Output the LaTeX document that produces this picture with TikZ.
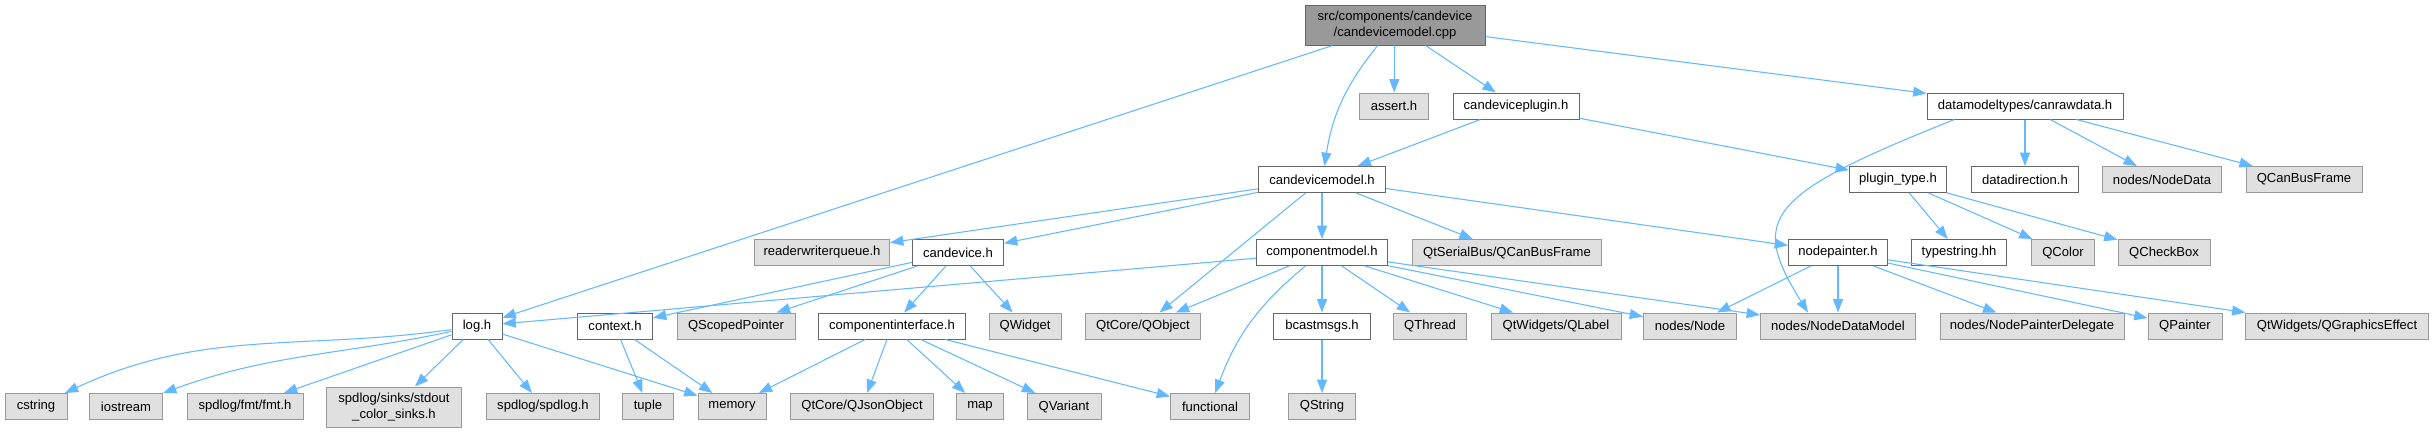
\documentclass[tikz,border=0pt]{standalone}
\usepackage{fontspec}
\setmainfont{Liberation Sans}
\usetikzlibrary{arrows.meta}
\definecolor{edgeblue}{HTML}{63B8FF}
\definecolor{docline}{HTML}{666666}
\definecolor{sysline}{HTML}{999999}
\definecolor{sysfill}{HTML}{E0E0E0}
\definecolor{srcfill}{HTML}{999999}
\tikzset{
  >={Triangle[length=10pt,width=7.5pt]},
  % filer
  filebox/.style={rectangle,line width=0.75pt,inner sep=0pt,minimum height=19.5pt,
                  font=\fontsize{9.8}{11.5}\selectfont,align=center},
  docfile/.style={filebox,draw=docline,fill=white,minimum width={0.75pt*#1}},
  sysfile/.style={filebox,draw=sysline,fill=sysfill,minimum width={0.75pt*#1}},
  srcfile/.style={filebox,draw=docline,fill=srcfill,minimum height=30pt,
                  minimum width={0.75pt*#1}},
  % beroenden
  dep/.style={->,draw=edgeblue,line width=0.8pt},
}
\begin{document}
\begin{tikzpicture}[x=0.75pt,y=0.75pt]
\useasboundingbox (0,0) rectangle (2434,-432);
  \node[srcfile=180] (src) at (1395,-25) {src/components/candevice\\/candevicemodel.cpp};
  \node[sysfile=69] (assert) at (1394,-106) {assert.h};
  \node[docfile=126] (plugin) at (1516,-106) {candeviceplugin.h};
  \node[docfile=196] (canraw) at (2025,-106) {datamodeltypes/canrawdata.h};
  \node[docfile=127] (cdmodel) at (1322,-179.5) {candevicemodel.h};
  \node[docfile=97] (ptype) at (1898,-179.5) {plugin\_type.h};
  \node[docfile=107] (ddir) at (2025,-179.5) {datadirection.h};
  \node[sysfile=119] (ndata) at (2162,-179.5) {nodes/NodeData};
  \node[sysfile=116] (qcbf) at (2304,-179.5) {QCanBusFrame};
  \node[sysfile=135] (rwq) at (822,-252.5) {readerwriterqueue.h};
  \node[docfile=91] (candev) at (958,-252.5) {candevice.h};
  \node[docfile=131] (cmodel) at (1322,-252.5) {componentmodel.h};
  \node[sysfile=189] (qsbf) at (1507,-252.5) {QtSerialBus/QCanBusFrame};
  \node[docfile=99] (npaint) at (1838,-252.5) {nodepainter.h};
  \node[docfile=95] (tstr) at (1959,-252.5) {typestring.hh};
  \node[sysfile=63] (qcolor) at (2063,-252.5) {QColor};
  \node[sysfile=92] (qcheck) at (2164,-252.5) {QCheckBox};
  \node[docfile=50] (log) at (477,-326) {log.h};
  \node[docfile=75] (ctx) at (615,-326) {context.h};
  \node[sysfile=118] (qsptr) at (736,-326) {QScopedPointer};
  \node[docfile=147] (cif) at (892,-326) {componentinterface.h};
  \node[sysfile=72] (qwidget) at (1025,-326) {QWidget};
  \node[sysfile=115] (qobj) at (1143,-326) {QtCore/QObject};
  \node[docfile=97] (bcast) at (1322,-326) {bcastmsgs.h};
  \node[sysfile=73] (qthread) at (1430,-326) {QThread};
  \node[sysfile=130] (qlabel) at (1556,-326) {QtWidgets/QLabel};
  \node[sysfile=93] (nnode) at (1690,-326) {nodes/Node};
  \node[sysfile=155] (ndmodel) at (1838,-326) {nodes/NodeDataModel};
  \node[sysfile=184] (npdel) at (2032,-326) {nodes/NodePainterDelegate};
  \node[sysfile=74] (qpainter) at (2185,-326) {QPainter};
  \node[sysfile=183] (qgfx) at (2337,-326) {QtWidgets/QGraphicsEffect};
  \node[sysfile=62] (cstring) at (36,-406.5) {cstring};
  \node[sysfile=73] (iostream) at (126,-406.5) {iostream};
  \node[sysfile=116] (fmt) at (245,-406.5) {spdlog/fmt/fmt.h};
  \node[sysfile=135,minimum height=30pt] (sinks) at (394,-407) {spdlog/sinks/stdout\\\_color\_sinks.h};
  \node[sysfile=113] (spdlog) at (543,-406.5) {spdlog/spdlog.h};
  \node[sysfile=51] (tuple) at (648,-406.5) {tuple};
  \node[sysfile=68] (memory) at (732,-406.5) {memory};
  \node[sysfile=143] (qjson) at (862,-406.5) {QtCore/QJsonObject};
  \node[sysfile=47] (map) at (980,-406.5) {map};
  \node[sysfile=74] (qvariant) at (1064,-406.5) {QVariant};
  \node[sysfile=79] (functional) at (1210,-406.5) {functional};
  \node[sysfile=67] (qstring) at (1322,-406.5) {QString};
  \draw[dep] (src) -- (log);
  \draw[dep] (src) to[bend right=15] (cdmodel);
  \draw[dep] (src) -- (assert);
  \draw[dep] (src) -- (plugin);
  \draw[dep] (src) -- (canraw);
  \draw[dep] (plugin) -- (cdmodel);
  \draw[dep] (plugin) -- (ptype);
  \draw[dep] ([xshift=21pt]canraw.south west) .. controls (1765,-195) and (1749,-218) .. ([xshift=36pt]ndmodel.north west);
  \draw[dep] (canraw) -- (ddir);
  \draw[dep] (canraw) -- (ndata);
  \draw[dep] (canraw) -- (qcbf);
  \draw[dep] (ptype) -- (tstr);
  \draw[dep] (ptype) -- (qcolor);
  \draw[dep] (ptype) -- (qcheck);
  \draw[dep] (cdmodel) -- (rwq);
  \draw[dep] (cdmodel) -- (candev);
  \draw[dep] (cdmodel) -- (qobj);
  \draw[dep] (cdmodel) -- (cmodel);
  \draw[dep] (cdmodel) -- (qsbf);
  \draw[dep] (cdmodel) -- (npaint);
  \draw[dep] (candev) -- (ctx);
  \draw[dep] (candev) -- (qsptr);
  \draw[dep] (candev) -- (cif);
  \draw[dep] (candev) -- (qwidget);
  \draw[dep] (cmodel) -- (log);
  \draw[dep] (cmodel) -- (qobj);
  \draw[dep] (cmodel) to[bend right=15] (functional);
  \draw[dep] (cmodel) -- (bcast);
  \draw[dep] (cmodel) -- (qthread);
  \draw[dep] (cmodel) -- (qlabel);
  \draw[dep] (cmodel) -- (nnode);
  \draw[dep] (cmodel) -- (ndmodel);
  \draw[dep] (npaint) -- (nnode);
  \draw[dep] (npaint) -- (ndmodel);
  \draw[dep] (npaint) -- (npdel);
  \draw[dep] (npaint) -- (qpainter);
  \draw[dep] (npaint) -- (qgfx);
  \draw[dep] (log) to[out=188,in=25] (cstring);
  \draw[dep] (log) to[out=192,in=20] (iostream);
  \draw[dep] (log) -- (fmt);
  \draw[dep] (log) -- (sinks);
  \draw[dep] (log) -- (spdlog);
  \draw[dep] (log) -- (memory);
  \draw[dep] (ctx) -- (tuple);
  \draw[dep] (ctx) -- (memory);
  \draw[dep] (cif) -- (memory);
  \draw[dep] (cif) -- (qjson);
  \draw[dep] (cif) -- (map);
  \draw[dep] (cif) -- (qvariant);
  \draw[dep] (cif) -- (functional);
  \draw[dep] (bcast) -- (qstring);
\end{tikzpicture}
\end{document}
